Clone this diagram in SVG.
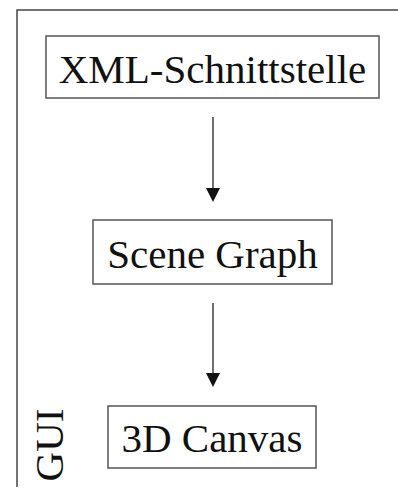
<svg xmlns="http://www.w3.org/2000/svg" width="398" height="489" viewBox="0 0 398 489">
<style>
.box{fill:#fff;stroke:#555;stroke-width:1.5}
.lbl{font-family:"Liberation Serif","Times New Roman",serif;font-size:41px;fill:#111}
.conn{stroke:#222;stroke-width:1.3;fill:none}
.head{fill:#111}
</style>
<rect width="398" height="489" fill="#fff"/>
<g id="frame">
<path d="M17,487 L17,10 L398,10" fill="none" stroke="#444" stroke-width="1.5"/>
<text class="lbl" transform="translate(63,445) rotate(-90)" text-anchor="middle">GUI</text>
</g>
<g id="connectors">
<line class="conn" x1="213" y1="117" x2="213" y2="188"/>
<path class="head" d="M206,188 L220,188 L213,202 Z"/>
<line class="conn" x1="213" y1="303" x2="213" y2="373"/>
<path class="head" d="M206,373 L220,373 L213,387 Z"/>
</g>
<g id="xml">
<rect class="box" x="46" y="36" width="333" height="62"/>
<text class="lbl" x="212.5" y="83" text-anchor="middle">XML-Schnittstelle</text>
</g>
<g id="scene">
<rect class="box" x="93" y="220" width="239" height="64"/>
<text class="lbl" x="212.5" y="268" text-anchor="middle">Scene Graph</text>
</g>
<g id="canvas">
<rect class="box" x="108" y="406" width="208" height="62"/>
<text class="lbl" x="212" y="452" text-anchor="middle">3D Canvas</text>
</g>
</svg>
